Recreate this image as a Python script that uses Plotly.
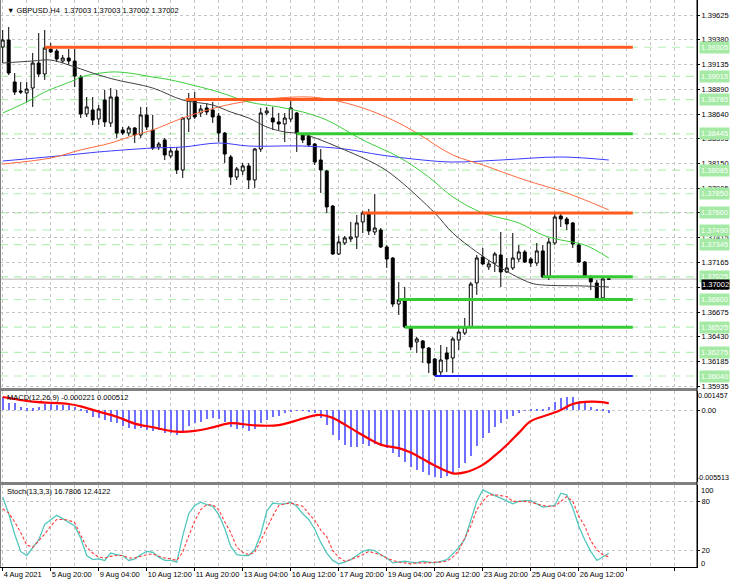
import plotly.graph_objects as go

FONT = "Liberation Sans"
FS = 7.5

# ---------------- data ----------------
bars = list(range(102))
opens = [1.39307,1.39377,1.38960,1.38870,1.38851,1.38900,1.39148,1.39039,1.39287,1.39268,
         1.39168,1.39198,1.39168,1.39009,1.38642,1.38682,1.38592,1.38781,1.38553,1.38811,
         1.38483,1.38453,1.38503,1.38433,1.38632,1.38483,1.38314,1.38384,1.38225,1.38275,
         1.38086,1.38592,1.38781,1.38652,1.38702,1.38682,1.38622,1.38453,1.38215,1.38016,
         1.38076,1.38126,1.37987,1.38294,1.38652,1.38602,1.38563,1.38543,1.38592,1.38652,
         1.38433,1.38424,1.38344,1.38185,1.38076,1.37728,1.37252,1.37361,1.37401,1.37421,
         1.37570,1.37659,1.37470,1.37490,1.37321,1.37212,1.36755,1.36795,1.36527,1.36378,
         1.36388,1.36318,1.36209,1.36080,1.36269,1.36219,1.36398,1.36467,1.36527,1.36964,
         1.37222,1.37123,1.37162,1.37242,1.37073,1.37113,1.37202,1.37272,1.37202,1.37162,
         1.37282,1.37023,1.37361,1.37629,1.37599,1.37560,1.37341,1.37172,1.37014,1.36964,
         1.36815,1.37003]
highs = [1.39476,1.39506,1.39049,1.38960,1.38960,1.39248,1.39446,1.39476,1.39347,1.39287,
         1.39228,1.39287,1.39287,1.39029,1.38811,1.38811,1.38731,1.38880,1.38900,1.38880,
         1.38513,1.38523,1.38513,1.38712,1.38712,1.38632,1.38364,1.38404,1.38314,1.38314,
         1.38612,1.38851,1.38860,1.38731,1.38751,1.38761,1.38652,1.38463,1.38235,1.38116,
         1.38155,1.38155,1.38304,1.38702,1.38712,1.38712,1.38652,1.38652,1.38781,1.38662,
         1.38453,1.38433,1.38354,1.38294,1.38086,1.37738,1.37431,1.37431,1.37570,1.37639,
         1.37679,1.37699,1.37848,1.37510,1.37341,1.37222,1.36974,1.36924,1.36527,1.36428,
         1.36398,1.36328,1.36219,1.36348,1.36328,1.36428,1.36527,1.36616,1.36974,1.37242,
         1.37311,1.37192,1.37272,1.37470,1.37212,1.37460,1.37341,1.37292,1.37222,1.37361,
         1.37341,1.37411,1.37659,1.37659,1.37619,1.37570,1.37361,1.37182,1.37043,1.36994,
         1.37014,1.37003]
lows = [1.39148,1.39029,1.38831,1.38841,1.38761,1.38712,1.39009,1.38980,1.39248,1.39158,
        1.39148,1.39129,1.38910,1.38602,1.38612,1.38533,1.38533,1.38513,1.38513,1.38404,
        1.38433,1.38424,1.38354,1.38404,1.38483,1.38285,1.38285,1.38185,1.38205,1.38046,
        1.38007,1.38463,1.38592,1.38612,1.38632,1.38553,1.38364,1.38155,1.37937,1.37987,
        1.38036,1.37897,1.37907,1.38265,1.38632,1.38483,1.38483,1.38364,1.38563,1.38265,
        1.38354,1.38324,1.38136,1.37858,1.37659,1.37242,1.37242,1.37341,1.37371,1.37301,
        1.37460,1.37440,1.37440,1.37311,1.37113,1.36726,1.36646,1.36517,1.36299,1.36269,
        1.36169,1.36070,1.36040,1.36040,1.36080,1.36070,1.36299,1.36447,1.36517,1.36845,
        1.37143,1.37093,1.37073,1.36924,1.37063,1.37093,1.37172,1.37162,1.37123,1.37133,
        1.37014,1.36994,1.37341,1.37520,1.37490,1.37311,1.37162,1.37014,1.36894,1.36805,
        1.36805,1.37002]
closes = [1.39377,1.39049,1.38860,1.38860,1.38890,1.39148,1.39039,1.39297,1.39258,1.39188,
          1.39198,1.39168,1.39019,1.38642,1.38712,1.38582,1.38692,1.38563,1.38811,1.38453,
          1.38453,1.38503,1.38433,1.38632,1.38513,1.38304,1.38344,1.38235,1.38275,1.38086,
          1.38602,1.38781,1.38612,1.38692,1.38662,1.38612,1.38453,1.38245,1.38016,1.38096,
          1.38126,1.37987,1.38294,1.38652,1.38672,1.38563,1.38543,1.38602,1.38702,1.38453,
          1.38384,1.38334,1.38165,1.38086,1.37719,1.37252,1.37371,1.37411,1.37421,1.37560,
          1.37659,1.37480,1.37510,1.37321,1.37202,1.36755,1.36795,1.36527,1.36328,1.36408,
          1.36318,1.36169,1.36050,1.36199,1.36209,1.36408,1.36477,1.36527,1.36954,1.37212,
          1.37153,1.37153,1.37252,1.37073,1.37113,1.37212,1.37272,1.37172,1.37162,1.37282,
          1.37023,1.37371,1.37619,1.37599,1.37550,1.37351,1.37172,1.37023,1.36974,1.36815,
          1.37004,1.37002]

ma_black_x = [0,5,8,12,16,19,25,30,35,38,41,44,47,50,57,63,66,72,75,79,83,88,90,97,101]
ma_black_y = [1.39148,1.39168,1.39178,1.39109,1.39029,1.38980,1.38900,1.38781,1.38731,1.38662,
              1.38602,1.38513,1.38463,1.38443,1.38285,1.38116,1.37987,1.37659,1.37460,1.37272,
              1.37113,1.36964,1.36944,1.36934,1.36924]
ma_green_x = [0,4,7,12,13,18,21,25,28,36,41,46,50,54,60,66,71,75,80,86,90,93,97,101]
ma_green_y = [1.38652,1.38761,1.38860,1.38980,1.39009,1.39059,1.39049,1.39009,1.38980,1.38860,
              1.38761,1.38712,1.38662,1.38582,1.38384,1.38215,1.38016,1.37818,1.37659,1.37560,
              1.37440,1.37391,1.37341,1.37212]
ma_orange_x = [0,8,13,18,22,25,30,36,41,46,51,55,60,65,69,75,80,87,94,101]
ma_orange_y = [1.38145,1.38205,1.38285,1.38354,1.38433,1.38483,1.38602,1.38712,1.38771,1.38801,
               1.38811,1.38781,1.38702,1.38582,1.38453,1.38235,1.38136,1.37987,1.37858,1.37689]
ma_blue_x = [0,11,16,25,30,36,41,50,57,63,70,75,83,93,101]
ma_blue_y = [1.38175,1.38235,1.38265,1.38304,1.38314,1.38354,1.38324,1.38324,1.38294,1.38235,
             1.38185,1.38165,1.38185,1.38215,1.38185]

level_prices = [1.39305,1.39015,1.38785,1.38445,1.38085,1.37850,1.37660,1.37490,1.37345,
                1.37025,1.36800,1.36525,1.36275,1.36040]
res_prices = [1.39305, 1.38785, 1.37660]
res_start = [7, 30.5, 60]
sup_prices = [1.38445, 1.37025, 1.36800, 1.36525]
sup_start = [49, 90, 66, 67]
low_price = 1.36040
low_start = 72
line_end = 105

price_ticks = [1.39625,1.39380,1.39135,1.38890,1.38640,1.38395,1.38150,1.37905,1.37660,
               1.37415,1.37165,1.36920,1.36675,1.36430,1.36185,1.35935]

macd_hist = [0.00102,0.00056,0.00051,0.00025,0.00013,0.00013,0.00025,0.00046,0.00046,0.00038,
             0.00038,0.00038,0.00025,0.00002,-0.00025,-0.00051,-0.00064,-0.00077,-0.00090,-0.00097,
             -0.00123,-0.00136,-0.00148,-0.00140,-0.00153,-0.00159,-0.00153,-0.00174,-0.00178,-0.00192,
             -0.00178,-0.00123,-0.00102,-0.00090,-0.00071,-0.00064,-0.00071,-0.00090,-0.00128,-0.00148,
             -0.00138,-0.00157,-0.00148,-0.00102,-0.00077,-0.00056,-0.00044,-0.00025,-0.00008,-0.00005,
             -0.00005,-0.00008,-0.00025,-0.00064,-0.00115,-0.00192,-0.00230,-0.00268,-0.00281,-0.00281,
             -0.00263,-0.00273,-0.00263,-0.00273,-0.00289,-0.00332,-0.00358,-0.00396,-0.00434,-0.00460,
             -0.00477,-0.00498,-0.00511,-0.00519,-0.00503,-0.00485,-0.00442,-0.00408,-0.00350,-0.00273,
             -0.00214,-0.00174,-0.00128,-0.00097,-0.00071,-0.00046,-0.00021,-0.00004,0.00002,0.00008,
             0.00005,0.00025,0.00064,0.00090,0.00102,0.00102,0.00071,0.00056,0.00025,0.00004,
             0.00002,-0.000221]
signal_x = [0,5,11,13,16,19,22,25,29,32,35,38,42,46,48,51,53,55,56,59,63,66,68,72,75,77,80,82,
            84,86,88,91,93,95,98,100,101]
signal_y = [0.00100,0.00064,0.00046,0.00028,-0.00012,-0.00051,-0.00104,-0.00132,-0.00166,-0.00160,
            -0.00133,-0.00100,-0.00118,-0.00116,-0.00093,-0.00052,-0.00038,-0.00060,-0.00084,-0.00166,
            -0.00265,-0.00292,-0.00325,-0.00425,-0.00485,-0.00478,-0.00420,-0.00350,-0.00268,-0.00175,
            -0.00085,-0.00035,0.00000,0.00046,0.00064,0.00060,0.000512]
macd_max = 0.001457
macd_min = -0.005513

stoch_k = [85,65,40,19,14,23,33,52,58,63,59,55,50,35,14,9,10,8,17,15,
           14,8,10,15,19,18,12,8,8,6,38,65,75,79,76,74,64,47,25,15,
           14,14,21,40,68,78,77,77,79,74,65,58,46,30,17,8,4,6,9,14,
           19,21,20,15,11,5,6,7,6,5,7,6,5,7,9,16,24,34,58,80,
           94,90,87,84,80,77,80,81,81,77,73,74,75,90,88,72,50,33,19,8,
           12,16.7806]
stoch_d = [71,66,55,42,27,24,32,40,50,58,58,57,54,38,24,17,12,11,13,14,
           14,11,11,13,15,16,13,11,10,8,18,38,56,70,76,76,70,55,42,24,
           18,15,18,32,48,62,75,77,78,76,74,65,57,45,37,20,12,7,9,12,
           15,19,17,15,11,8,6,5,4,5,5,5,6,6,7,12,20,35,50,70,
           80,88,88,87,86,80,80,80,79,77,75,74,74,80,86,80,62,50,32,21,
           15,12.4122]

x_tick_bars = [0,8,16,24,32,40,48,56,64,72,80,88,96,104,112]
x_tick_text = ["4 Aug 2021","5 Aug 20:00","9 Aug 04:00","10 Aug 12:00","11 Aug 20:00",
               "13 Aug 04:00","16 Aug 12:00","17 Aug 20:00","19 Aug 04:00","20 Aug 12:00",
               "23 Aug 20:00","25 Aug 04:00","26 Aug 12:00","",""]

title_text = "\u25BC GBPUSD.H4  1.37003 1.37003 1.37002 1.37002"
macd_text = "MACD(12,26,9) -0.000221 0.000512"
stoch_text = "Stoch(13,3,3) 16.7806 12.4122"

# ---------------- geometry ----------------
W, H = 730, 584
ML, MR, MT, MB = 0, 33, 0, 17
PW, PH = W - ML - MR, H - MT - MB


def px(xp):
    return xp / PW


def py(yp):
    return 1 - yp / PH


XR = [-0.45, 115.7]
GRID = "#c4c4c4"

fig = go.Figure()

fig.add_trace(go.Candlestick(
    x=bars, open=opens, high=highs, low=lows, close=closes,
    increasing=dict(line=dict(color="black", width=1), fillcolor="white"),
    decreasing=dict(line=dict(color="black", width=1), fillcolor="black"),
    whiskerwidth=0, xaxis="x", yaxis="y", showlegend=False, hoverinfo="skip"))

for xs, ys, col in [(ma_blue_x, ma_blue_y, "#3b3bff"),
                    (ma_orange_x, ma_orange_y, "#ff6a3d"),
                    (ma_green_x, ma_green_y, "#3ccf3c"),
                    (ma_black_x, ma_black_y, "#404040")]:
    fig.add_trace(go.Scatter(x=xs, y=ys, mode="lines", line=dict(color=col, width=1, shape="spline"),
                             xaxis="x", yaxis="y", showlegend=False, hoverinfo="skip"))

fig.add_trace(go.Bar(x=bars, y=macd_hist, marker=dict(color="#6e6eff", line=dict(width=0)),
                     width=0.17, xaxis="x2", yaxis="y2", showlegend=False, hoverinfo="skip"))
fig.add_trace(go.Scatter(x=signal_x, y=signal_y, mode="lines",
                         line=dict(color="#ff0000", width=2.2, shape="spline"),
                         xaxis="x2", yaxis="y2", showlegend=False, hoverinfo="skip"))

fig.add_trace(go.Scatter(x=bars, y=stoch_k, mode="lines", line=dict(color="#52c7bd", width=1.3),
                         xaxis="x3", yaxis="y3", showlegend=False, hoverinfo="skip"))
fig.add_trace(go.Scatter(x=bars, y=stoch_d, mode="lines",
                         line=dict(color="#ff3b3b", width=1.1, dash="3px,2px"),
                         xaxis="x3", yaxis="y3", showlegend=False, hoverinfo="skip"))

shapes = []
for lv in level_prices:
    shapes.append(dict(type="line", xref="paper", yref="y", x0=0, x1=1, y0=lv, y1=lv,
                       line=dict(color="#b6efb6", width=1.2, dash="8px,6px"), layer="below"))
shapes.append(dict(type="line", xref="paper", yref="y", x0=0, x1=1, y0=closes[-1], y1=closes[-1],
                   line=dict(color="#b4b4b4", width=1), layer="below"))
for lv, st in zip(res_prices, res_start):
    shapes.append(dict(type="line", xref="x", yref="y", x0=st, x1=line_end, y0=lv, y1=lv,
                       line=dict(color="#ff5a1f", width=3)))
for lv, st in zip(sup_prices, sup_start):
    shapes.append(dict(type="line", xref="x", yref="y", x0=st, x1=line_end, y0=lv, y1=lv,
                       line=dict(color="#33cc33", width=3)))
shapes.append(dict(type="line", xref="x", yref="y", x0=low_start, x1=line_end, y0=low_price, y1=low_price,
                   line=dict(color="#2323ff", width=2)))
for yy in [389.5, 483.5]:
    shapes.append(dict(type="line", xref="paper", yref="paper", x0=0, x1=1, y0=py(yy), y1=py(yy),
                       line=dict(color="#808080", width=3)))
shapes.append(dict(type="line", xref="paper", yref="paper", x0=px(0.5), x1=px(0.5), y0=0, y1=1,
                   line=dict(color="#808080", width=1)))
shapes.append(dict(type="line", xref="paper", yref="paper", x0=1, x1=1, y0=0, y1=1,
                   line=dict(color="#000000", width=1)))

small = dict(family=FONT, size=7.1, color="black")
ann = []
for lv in level_prices:
    ann.append(dict(xref="paper", yref="y", x=px(730), y=lv, xanchor="right", yanchor="middle",
                    text=f"{lv:.5f}", showarrow=False, bgcolor="#a4eaa4",
                    font=dict(family=FONT, size=FS, color="white"), borderpad=1))
ann.append(dict(xref="paper", yref="y", x=px(730), y=closes[-1], xanchor="right", yanchor="top",
                text=f"{closes[-1]:.5f}", showarrow=False, bgcolor="#000000",
                font=dict(family=FONT, size=FS, color="white"), borderpad=0))
ann.append(dict(xref="paper", yref="paper", x=px(5), y=py(10), xanchor="left", yanchor="middle",
                text=title_text, showarrow=False, font=dict(family=FONT, size=FS, color="black")))
ann.append(dict(xref="paper", yref="paper", x=px(5), y=py(397), xanchor="left", yanchor="middle",
                text=macd_text, showarrow=False, font=dict(family=FONT, size=FS, color="black")))
ann.append(dict(xref="paper", yref="paper", x=px(5), y=py(491), xanchor="left", yanchor="middle",
                text=stoch_text, showarrow=False, font=dict(family=FONT, size=FS, color="black")))
ann.append(dict(xref="paper", yref="paper", x=px(729), y=py(396), xanchor="right", yanchor="middle",
                text=f"{macd_max:.6f}", showarrow=False, font=small, borderpad=0))
ann.append(dict(xref="paper", yref="paper", x=px(730), y=py(478), xanchor="right", yanchor="middle",
                text=f"{macd_min:.6f}", showarrow=False, font=small, borderpad=0))
ann.append(dict(xref="paper", yref="paper", x=px(700), y=py(490), xanchor="left", yanchor="middle",
                text="100", showarrow=False, font=dict(family=FONT, size=FS, color="black"),
                borderpad=0))
ann.append(dict(xref="paper", yref="paper", x=px(700), y=py(563), xanchor="left", yanchor="middle",
                text="0", showarrow=False, font=dict(family=FONT, size=FS, color="black"),
                borderpad=0))

tickfont = dict(family=FONT, size=FS, color="black")


def xax(anchor, labels=False):
    d = dict(domain=[0, 1], range=XR, anchor=anchor, showgrid=True, gridcolor=GRID, griddash="dot",
             gridwidth=1, tickmode="array", tickvals=x_tick_bars, zeroline=False,
             minor=dict(tickmode="array", tickvals=[v + 4 for v in x_tick_bars], showgrid=True,
                        gridcolor=GRID, griddash="dot", ticklen=0),
             showticklabels=labels, ticks="outside" if labels else "", ticklen=3,
             tickcolor="black", fixedrange=True, tickangle=0)
    if labels:
        d.update(ticktext=x_tick_text, tickfont=tickfont, ticklabelposition="outside right",
                 showline=True, linecolor="black", linewidth=1)
    return d


yax_common = dict(side="right", showgrid=True, gridcolor=GRID, griddash="dot", zeroline=False,
                  ticks="outside", ticklen=2, tickcolor="black", tickfont=tickfont, showline=True,
                  linecolor="black", fixedrange=True, tickmode="array", ticklabelstandoff=0)

fig.update_layout(
    width=W, height=H, margin=dict(l=ML, r=MR, t=MT, b=MB, autoexpand=False),
    paper_bgcolor="white", plot_bgcolor="white", showlegend=False, bargap=0,
    font=dict(family=FONT, size=FS, color="black"),
    xaxis=dict(**xax("y"), rangeslider=dict(visible=False)),
    xaxis2=xax("y2"),
    xaxis3=xax("y3", labels=True),
    yaxis=dict(domain=[py(388), 1], range=[1.35921, 1.39774], anchor="x",
               tickvals=price_ticks, ticktext=[f"{v:.5f}" for v in price_ticks], **yax_common),
    yaxis2=dict(domain=[py(482), py(391)], range=[macd_min, macd_max], anchor="x2",
                tickvals=[0], ticktext=["0.00"], **yax_common),
    yaxis3=dict(domain=[0, py(485)], range=[0, 100], anchor="x3",
                tickvals=[20, 80], ticktext=["20", "80"], **yax_common),
    shapes=shapes, annotations=ann,
)

fig.write_html("out.html", config={"displayModeBar": False},
               post_script="document.body.style.margin='0';document.body.style.overflow='hidden';")
